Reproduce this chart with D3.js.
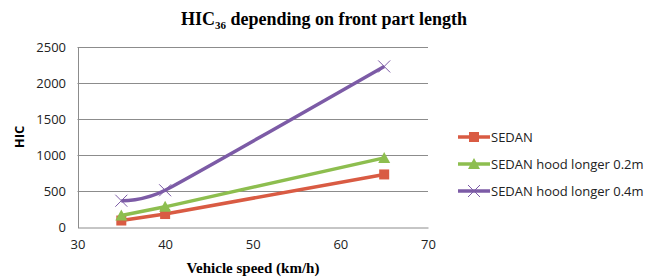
<!DOCTYPE html>
<html>
<head>
<script src="https://d3js.org/d3.v7.min.js"></script>
<style>
  body { margin: 0; background: #fff; }
  .axis text { font-family: "Open Sans", "Liberation Sans", sans-serif; font-size: 13px; fill: #222; }
  .grid line { stroke: #8c8c8c; }
</style>
</head>
<body>
<svg width="658" height="280"></svg>
<script>
var speeds = [35, 40, 65];
var seriesNames = ["SEDAN", "SEDAN hood longer 0.2m", "SEDAN hood longer 0.4m"];
var sedan = [90, 180, 730];
var hood02 = [160, 280, 960];
var hood04 = [365, 510, 2230];
var xTicks = [30, 40, 50, 60, 70];
var yTicks = [0, 500, 1000, 1500, 2000, 2500];

var colors = ["#d95b43", "#8dbe4f", "#7c5ba6"];
var values = [sedan, hood02, hood04];

var svg = d3.select("svg");
var x = d3.scaleLinear().domain([30, 70]).range([77.5, 428]);
var y = d3.scaleLinear().domain([0, 2500]).range([227, 47]);

// title
var title = svg.append("text")
    .attr("x", 324).attr("y", 25)
    .attr("text-anchor", "middle")
    .style("font-family", "'Liberation Serif', 'Times New Roman', serif")
    .style("font-weight", "bold")
    .style("font-size", "18px");
title.append("tspan").text("HIC");
title.append("tspan").attr("dy", 4).style("font-size", "11px").text("36");
title.append("tspan").attr("dy", -4).text(" depending on front part length");

// gridlines
svg.append("g").attr("class", "grid")
  .selectAll("line").data(yTicks.slice(1)).enter().append("line")
    .attr("x1", x(30)).attr("x2", x(70))
    .attr("y1", function(d) { return y(d) + 0.5; })
    .attr("y2", function(d) { return y(d) + 0.5; });

// axes
var yAxis = svg.append("g").attr("class", "axis")
    .attr("transform", "translate(" + (x(30) + 0.5) + ",0.5)")
    .call(d3.axisLeft(y).tickValues(yTicks).tickFormat(d3.format("d")).tickSize(0).tickPadding(12));
yAxis.select(".domain").attr("stroke", "#8c8c8c");

var xAxis = svg.append("g").attr("class", "axis")
    .attr("transform", "translate(0," + (y(0) + 0.5) + ")")
    .call(d3.axisBottom(x).tickValues(xTicks).tickFormat(d3.format("d")).tickSize(0).tickPadding(12));
xAxis.select(".domain").attr("stroke", "#8c8c8c");

svg.append("text")
    .attr("transform", "translate(24,137) rotate(-90)")
    .attr("text-anchor", "middle")
    .style("font-family", "'Open Sans', 'Liberation Sans', sans-serif")
    .style("font-weight", "bold").style("font-size", "13px")
    .text("HIC");

svg.append("text")
    .attr("x", 253).attr("y", 273)
    .attr("text-anchor", "middle")
    .style("font-family", "'Liberation Serif', 'Times New Roman', serif")
    .style("font-weight", "bold").style("font-size", "15px")
    .text("Vehicle speed (km/h)");

function marker(g, i, cx, cy) {
  if (i === 0) {
    g.append("rect").attr("x", cx - 5).attr("y", cy - 5).attr("width", 10).attr("height", 10).attr("fill", colors[0]);
  } else if (i === 1) {
    g.append("path").attr("d", "M" + cx + "," + (cy - 6) + "L" + (cx + 6) + "," + (cy + 5) + "L" + (cx - 6) + "," + (cy + 5) + "Z").attr("fill", colors[1]);
  } else {
    g.append("path").attr("d", "M" + (cx - 6) + "," + (cy - 6) + "L" + (cx + 6) + "," + (cy + 6) + "M" + (cx + 6) + "," + (cy - 6) + "L" + (cx - 6) + "," + (cy + 6))
      .attr("stroke", colors[2]).attr("stroke-width", 1).attr("fill", "none");
  }
}

values.forEach(function(vals, i) {
  var pts = speeds.map(function(s, j) { return [x(s), y(vals[j])]; });
  var line = d3.line().curve(i === 2 ? d3.curveCardinal.tension(0.5) : d3.curveLinear);
  var g = svg.append("g");
  g.append("path").attr("d", line(pts))
    .attr("fill", "none").attr("stroke", colors[i]).attr("stroke-width", 3.5);
  pts.forEach(function(p) { marker(g, i, p[0], p[1]); });
});

// legend
var legend = svg.append("g");
seriesNames.forEach(function(name, i) {
  var ly = 137 + i * 27;
  legend.append("line").attr("x1", 458).attr("x2", 490).attr("y1", ly).attr("y2", ly)
    .attr("stroke", colors[i]).attr("stroke-width", 3.5);
  marker(legend, i, 474, ly);
  legend.append("text").attr("x", 491).attr("y", ly + 5)
    .style("font-family", "'Open Sans', 'Liberation Sans', sans-serif")
    .style("font-size", "13px").attr("fill", "#222")
    .text(name);
});
</script>
</body>
</html>
